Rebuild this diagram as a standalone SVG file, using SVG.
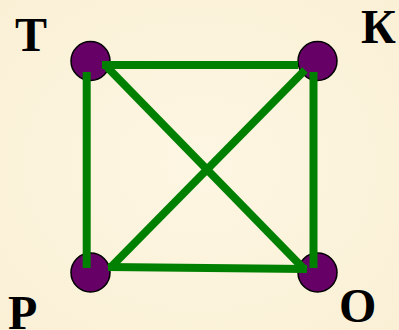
<svg xmlns="http://www.w3.org/2000/svg" width="399" height="330" viewBox="0 0 399 330">
<defs>
<style>
.node{fill:#660066;stroke:#000;stroke-width:1.5}
.edge{stroke:#008000;stroke-width:8;stroke-linecap:butt;fill:none}
.lbl{font-family:"Liberation Serif","Times New Roman",serif;font-weight:bold;font-size:48px;fill:#000}
</style>
<radialGradient id="bg" cx="50%" cy="50%" r="70%">
<stop offset="0" stop-color="#FDF6E2"/>
<stop offset="1" stop-color="#FAF0D6"/>
</radialGradient>
</defs>
<rect width="399" height="330" fill="url(#bg)"/>
<g id="node-T"><circle class="node" cx="90.5" cy="61" r="19.5"/><text class="lbl" x="15" y="51">Т</text></g>
<g id="node-K"><circle class="node" cx="317.5" cy="61" r="19.5"/><text class="lbl" x="361" y="43">К</text></g>
<g id="node-R"><circle class="node" cx="90.5" cy="272.5" r="19.5"/><text class="lbl" x="8" y="329">Р</text></g>
<g id="node-O"><circle class="node" cx="317.5" cy="272.5" r="19.5"/><text class="lbl" x="339" y="322">О</text></g>
<g id="connectors">
<line class="edge" x1="102" y1="65" x2="298" y2="65"/>
<line class="edge" x1="86.7" y1="72" x2="86.7" y2="268"/>
<line class="edge" x1="313.5" y1="72" x2="313.5" y2="268"/>
<line class="edge" x1="108" y1="267" x2="307" y2="269"/>
<line class="edge" x1="107" y1="67" x2="305" y2="270"/>
<line class="edge" x1="110" y1="268" x2="305" y2="70"/>
</g>
</svg>
